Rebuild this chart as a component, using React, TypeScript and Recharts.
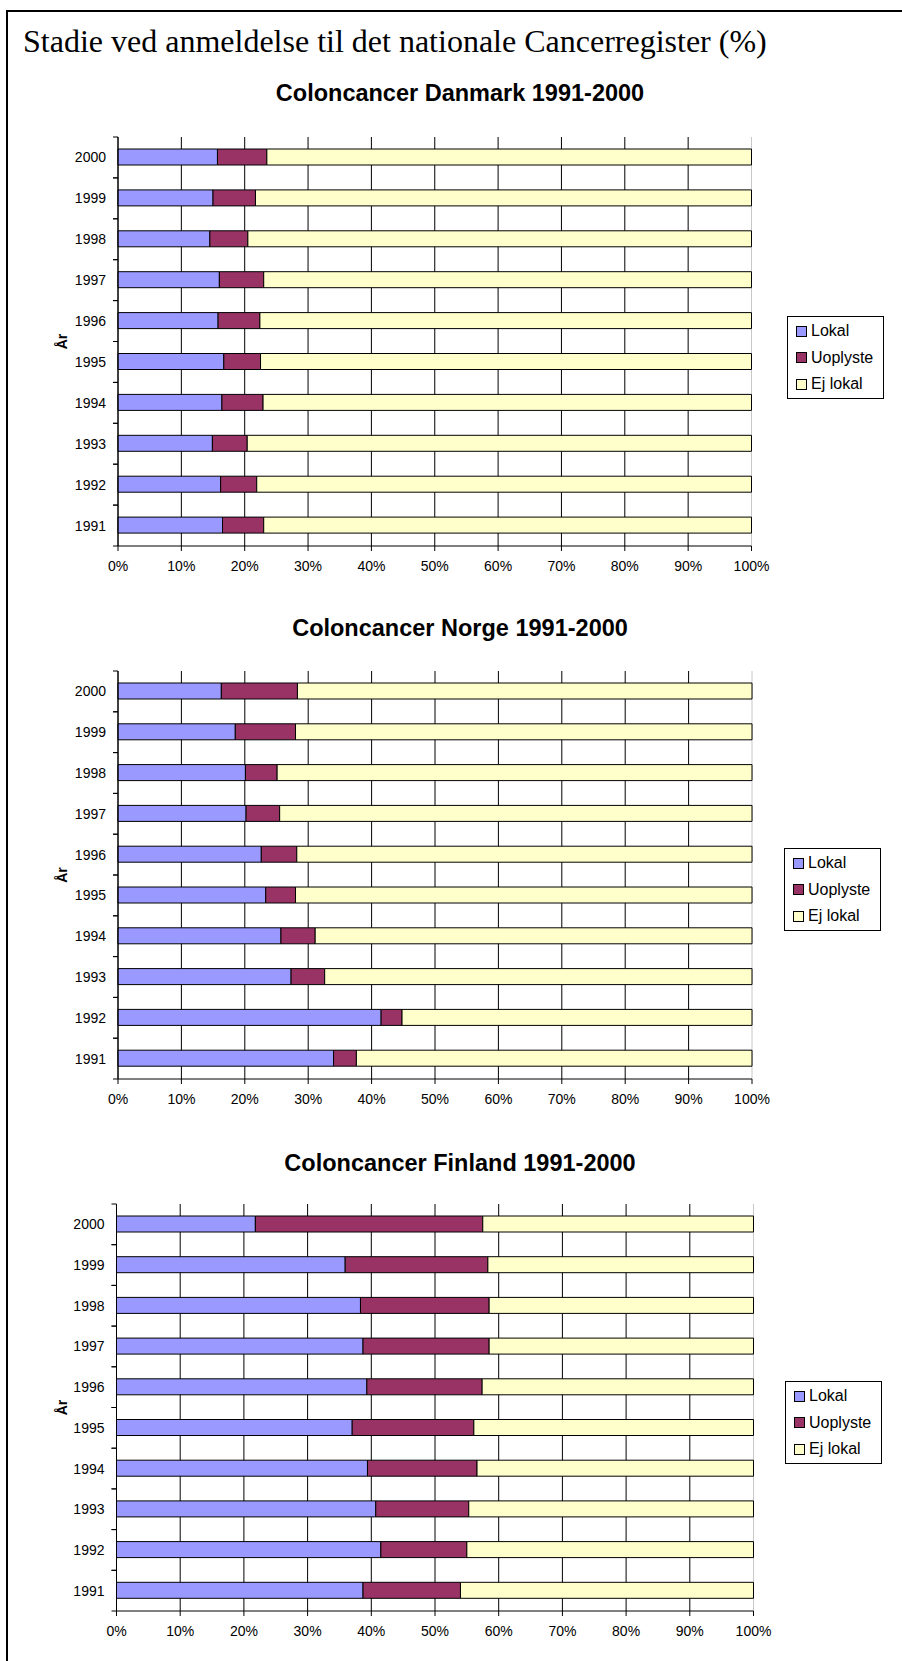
import { BarChart, Bar, XAxis, YAxis, CartesianGrid, Legend } from 'recharts'

const years = ['1991', '1992', '1993', '1994', '1995', '1996', '1997', '1998', '1999', '2000']
const seriesNames = ['Lokal', 'Uoplyste', 'Ej lokal']
const seriesKeys = ['lokal', 'uoplyste', 'ejLokal']
const seriesColors = ['#9999FF', '#993366', '#FFFFCC']
const percentTicks = [0, 10, 20, 30, 40, 50, 60, 70, 80, 90, 100]

// Danmark, 1991 -> 2000
const danmarkLokal = [16.5, 16.2, 14.9, 16.4, 16.7, 15.8, 16.0, 14.5, 15.0, 15.7]
const danmarkUoplyste = [6.5, 5.7, 5.5, 6.5, 5.8, 6.6, 7.0, 6.0, 6.7, 7.8]
const danmarkEjLokal = [77.0, 78.1, 79.6, 77.1, 77.5, 77.6, 77.0, 79.5, 78.3, 76.5]

// Norge
const norgeLokal = [34.0, 41.5, 27.3, 25.7, 23.3, 22.6, 20.2, 20.1, 18.5, 16.3]
const norgeUoplyste = [3.6, 3.3, 5.3, 5.4, 4.7, 5.6, 5.3, 5.0, 9.5, 12.0]
const norgeEjLokal = [62.4, 55.2, 67.4, 68.9, 72.0, 71.8, 74.5, 74.9, 72.0, 71.7]

// Finland
const finlandLokal = [38.7, 41.5, 40.7, 39.4, 37.0, 39.3, 38.7, 38.3, 35.9, 21.8]
const finlandUoplyste = [15.3, 13.5, 14.6, 17.2, 19.1, 18.1, 19.8, 20.2, 22.4, 35.7]
const finlandEjLokal = [46.0, 45.0, 44.7, 43.4, 43.9, 42.6, 41.5, 41.5, 41.7, 42.5]

const SANS = '"Liberation Sans", Arial, sans-serif'
const SERIF = '"Liberation Serif", "Times New Roman", serif'
const PAGE_W = 902
const PAGE_H = 1661

const panels = [
  {
    title: 'Coloncancer Danmark 1991-2000',
    values: [danmarkLokal, danmarkUoplyste, danmarkEjLokal],
    plot: { left: 118, right: 751.5, top: 137, bottom: 546 },
    titleY: 93,
    legend: { x: 787, y: 316 },
  },
  {
    title: 'Coloncancer Norge 1991-2000',
    values: [norgeLokal, norgeUoplyste, norgeEjLokal],
    plot: { left: 118, right: 752, top: 671, bottom: 1079 },
    titleY: 628,
    legend: { x: 784, y: 848 },
  },
  {
    title: 'Coloncancer Finland 1991-2000',
    values: [finlandLokal, finlandUoplyste, finlandEjLokal],
    plot: { left: 116.5, right: 753.5, top: 1204, bottom: 1611 },
    titleY: 1163,
    legend: { x: 785, y: 1381 },
  },
]

const TOP_PAD = 20

const makeYearTick = (axisX: number, band: number) => (props: any) => {
  const { y, payload } = props
  return (
    <g>
      <line x1={axisX - 5} x2={axisX} y1={y - band / 2} y2={y - band / 2} stroke="#000" />
      <line x1={axisX - 5} x2={axisX} y1={y + band / 2} y2={y + band / 2} stroke="#000" />
      <text x={axisX - 12} y={y} dy="0.36em" textAnchor="end" fontFamily={SANS} fontSize={14} fill="#000">
        {payload.value}
      </text>
    </g>
  )
}

const AxisTitle = ({ cy }: { cy: number }) => (
  <text
    x={62}
    y={cy}
    transform={`rotate(-90 62 ${cy})`}
    textAnchor="middle"
    dy="0.36em"
    fontFamily={SANS}
    fontSize={14}
    fontWeight="bold"
    fill="#000"
  >
    År
  </text>
)

const LegendBox = () => (
  <div
    style={{
      boxSizing: 'border-box',
      width: '100%',
      height: '100%',
      border: '1px solid #000',
      background: '#fff',
      padding: '1px 0 0 8px',
      fontFamily: SANS,
      fontSize: 16,
      color: '#000',
      textAlign: 'left',
    }}
  >
    {seriesNames.map((name, i) => (
      <div key={name} style={{ display: 'flex', alignItems: 'center', height: 26.5 }}>
        <span
          style={{
            display: 'inline-block',
            boxSizing: 'border-box',
            width: 11,
            height: 11,
            border: '1px solid #000',
            background: seriesColors[i],
            marginRight: 4,
          }}
        />
        <span>{name}</span>
      </div>
    ))}
  </div>
)

const Panel = ({ panel }: { panel: (typeof panels)[number] }) => {
  const { plot, values, legend } = panel
  const plotH = plot.bottom - plot.top
  const band = plotH / years.length
  const chartTop = plot.top - TOP_PAD
  const height = plotH + TOP_PAD + 40
  const data = years.map((year, i) => ({
    year,
    lokal: values[0][i],
    uoplyste: values[1][i],
    ejLokal: values[2][i],
  }))
  return (
    <>
      <div
        style={{
          position: 'absolute',
          left: 20,
          width: 880,
          top: panel.titleY - 14,
          height: 28,
          lineHeight: '28px',
          textAlign: 'center',
          fontFamily: SANS,
          fontWeight: 'bold',
          fontSize: 23.5,
          color: '#000',
        }}
      >
        {panel.title}
      </div>
      <div style={{ position: 'absolute', left: 0, top: chartTop }}>
        <BarChart
          width={PAGE_W}
          height={height}
          data={data}
          layout="vertical"
          barSize={16}
          margin={{ top: TOP_PAD, right: PAGE_W - plot.right, bottom: 10, left: 0 }}
        >
          <CartesianGrid
            horizontal={false}
            vertical={(p: any) => (
              <line
                key={p.key}
                x1={p.x1}
                y1={p.y1}
                x2={p.x2}
                y2={p.y2}
                stroke={Math.abs(p.x1 - plot.right) < 1 ? '#c8c8c8' : '#000'}
                strokeWidth={1}
              />
            )}
          />
          <XAxis
            type="number"
            domain={[0, 100]}
            ticks={percentTicks}
            tickFormatter={(v) => `${v}%`}
            height={30}
            tickSize={5}
            tickMargin={10}
            stroke="#000"
            tick={{ fill: '#000', fontSize: 14, fontFamily: SANS }}
            interval={0}
          />
          <YAxis
            type="category"
            dataKey="year"
            reversed
            width={plot.left}
            stroke="#000"
            tickLine={false}
            tick={makeYearTick(plot.left, band)}
            interval={0}
            label={<AxisTitle cy={TOP_PAD + plotH / 2} />}
          />
          {/* centred + middle keeps the legend out of the plot offset */}
          <Legend
            layout="horizontal"
            verticalAlign="middle"
            align="center"
            wrapperStyle={{ left: legend.x, top: legend.y - chartTop, width: 97, height: 83 }}
            content={() => <LegendBox />}
          />
          {seriesKeys.map((key, i) => (
            <Bar
              key={key}
              dataKey={key}
              name={seriesNames[i]}
              stackId="stage"
              fill={seriesColors[i]}
              stroke="#000"
              strokeWidth={1}
              isAnimationActive={false}
            />
          ))}
        </BarChart>
      </div>
    </>
  )
}

const App = () => (
  <div
    style={{
      position: 'absolute',
      left: 0,
      top: 0,
      width: PAGE_W,
      height: PAGE_H,
      background: '#fff',
      overflow: 'hidden',
    }}
  >
    <div
      style={{
        position: 'absolute',
        left: 6,
        top: 10,
        width: PAGE_W,
        height: PAGE_H,
        borderLeft: '2px solid #000',
        borderTop: '2px solid #000',
      }}
    />
    <div
      style={{
        position: 'absolute',
        left: 23,
        top: 25,
        lineHeight: '32px',
        fontFamily: SERIF,
        fontSize: 32,
        color: '#000',
        whiteSpace: 'nowrap',
      }}
    >
      Stadie ved anmeldelse til det nationale Cancerregister (%)
    </div>
    {panels.map((panel) => (
      <Panel key={panel.title} panel={panel} />
    ))}
  </div>
)

export default App
